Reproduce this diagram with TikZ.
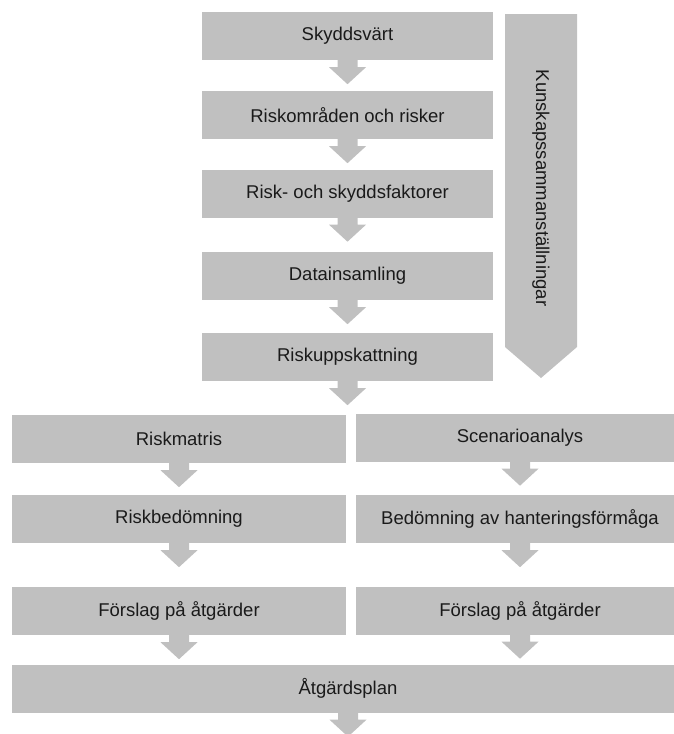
\documentclass[tikz,border=0pt]{standalone}
\usepackage{fontspec}
\setmainfont{Liberation Sans}
\usetikzlibrary{calc}
\definecolor{boxgray}{HTML}{C0C0C0}
\definecolor{txt}{HTML}{1A1A1A}
\tikzset{
  box/.style={fill=boxgray, draw=none, inner sep=0pt, text=txt,
    minimum height=48pt, font=\fontsize{18.5}{22}\selectfont},
  topbox/.style={box, minimum width=291pt},
  leftbox/.style={box, minimum width=334pt},
  rightbox/.style={box, minimum width=328pt},
  widebox/.style={box, minimum width=672pt},
}
\newcommand\blockarr[1]{%
  \fill[boxgray] ([xshift=-10pt]#1) -- ++(0,7) -- ++(-8.5,0) -- ++(18.5,17)
    -- ++(18.5,-17) -- ++(-8.5,0) -- ++(0,-7) -- cycle;}
\begin{document}
\begin{tikzpicture}[x=1pt,y=-1pt]
\useasboundingbox (0,0) rectangle (674,734);
\begin{scope}
\clip (0,0) rectangle (674,734);
% top column
\node[topbox] (s1) at (347.5,36) {Skyddsvärt};
\node[topbox] (s2) at (347.5,115) {Riskområden och risker};
\node[topbox] (s3) at (347.5,193.5) {Risk- och skyddsfaktorer};
\node[topbox] (s4) at (347.5,276) {Datainsamling};
\node[topbox] (s5) at (347.5,357) {Riskuppskattning};
% side arrow
\fill[boxgray] (505,14) -- (577,14) -- (577,347) -- (541,378) -- (505,347) -- cycle;
\node[font=\fontsize{18.5}{22}\selectfont, text=txt, rotate=-90, inner sep=0pt] (k) at (541,188) {Kunskapssammanställningar};
% left column
\node[leftbox] (l1) at (179,439) {Riskmatris};
\node[leftbox] (l2) at (179,519) {Riskbedömning};
\node[leftbox] (l3) at (179,611) {Förslag på åtgärder};
% right column
\node[rightbox] (r1) at (520,437.5) {Scenarioanalys};
\node[rightbox] (r2) at (520,519) {Bedömning av hanteringsförmåga};
\node[rightbox] (r3) at (520,610.5) {Förslag på åtgärder};
% bottom
\node[widebox] (a) at (348,688.5) {Åtgärdsplan};
% arrows
\blockarr{s1.south}
\blockarr{s2.south}
\blockarr{s3.south}
\blockarr{s4.south}
\blockarr{s5.south}
\blockarr{l1.south}
\blockarr{l2.south}
\blockarr{l3.south}
\blockarr{r1.south}
\blockarr{r2.south}
\blockarr{r3.south}
\blockarr{a.south}
\end{scope}
\end{tikzpicture}
\end{document}
